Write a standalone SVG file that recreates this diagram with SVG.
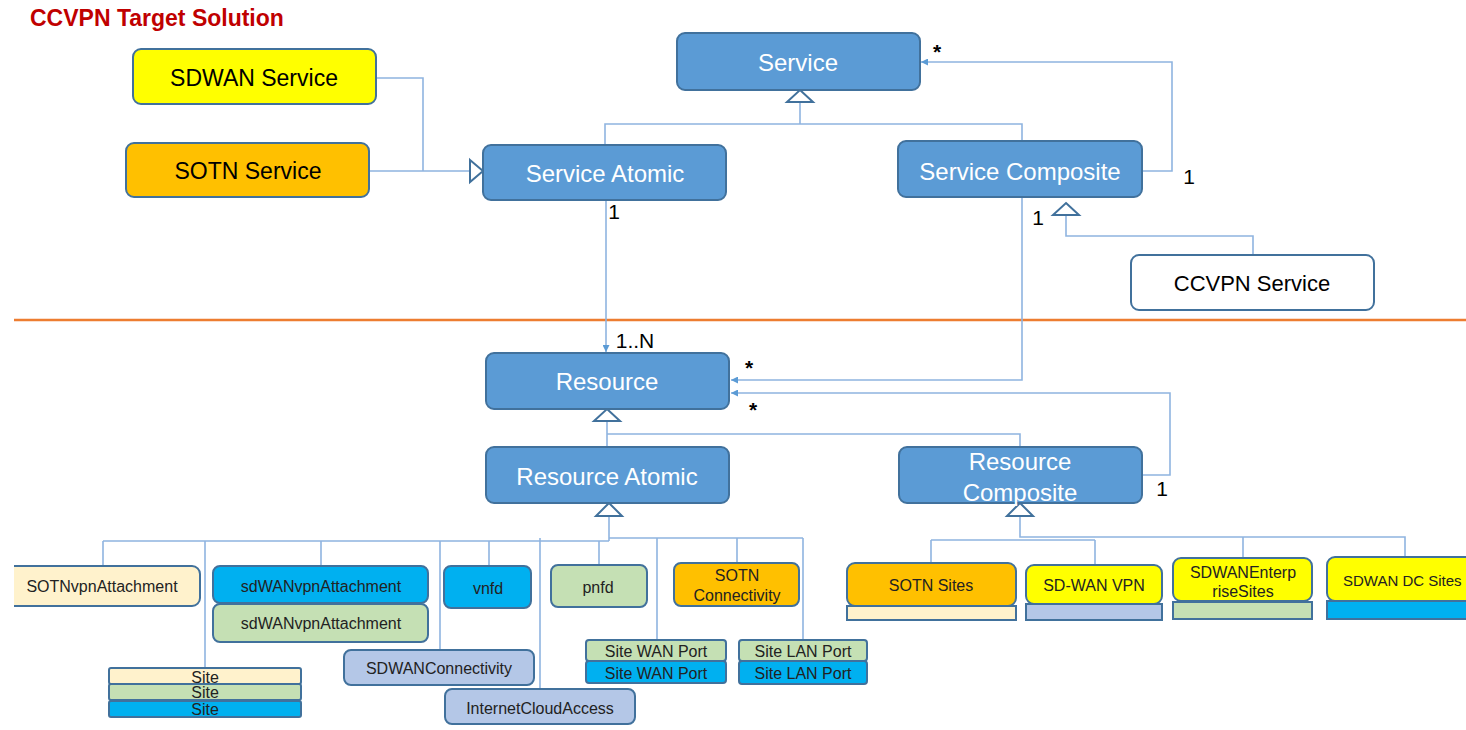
<svg xmlns="http://www.w3.org/2000/svg" width="1466" height="730" viewBox="0 0 1466 730">
<defs>
<marker id="arr" viewBox="0 0 10 10" refX="10" refY="5" markerWidth="7" markerHeight="7" orient="auto" markerUnits="userSpaceOnUse"><path d="M0,0 L10,5 L0,10 z" fill="#5B9BD5"/></marker>
<clipPath id="clipL"><rect x="14" y="0" width="1452" height="730"/></clipPath>
</defs>
<style>
text{font-family:"Liberation Sans",Arial,sans-serif;text-anchor:middle;dominant-baseline:central}
.n{stroke:#41719C;stroke-width:2}
.blue{fill:#5B9BD5}
.w{fill:#fff}
.yel{fill:#FFFF00}
.org{fill:#FFC000}
.cream{fill:#FFF2CC}
.grn{fill:#C5E0B4}
.cyan{fill:#00B0F0}
.lav{fill:#B4C7E7}
.tw{fill:#fff;font-size:24px}
.tb{fill:#000;font-size:23px}
.ts{fill:#222;font-size:16px}
.c{fill:none;stroke:#8FB4E0;stroke-width:1.6}
.tri{fill:#fff;stroke:#41719C;stroke-width:2}
.lbl{fill:#000;font-size:21px}
.star{fill:#000;font-size:21px;font-weight:bold}
</style>
<rect width="1466" height="730" fill="#fff"/>
<text x="30" y="18" style="text-anchor:start;fill:#C00000;font-size:23px;font-weight:bold">CCVPN Target Solution</text>
<line x1="14" y1="320" x2="1466" y2="320" stroke="#ED7D31" stroke-width="2.5"/>

<g id="connectors">
<path class="c" d="M376,78 H423 V171 M369,171 H470"/>
<polygon class="tri" points="470,160 483,171 470,182"/>
<path class="c" d="M800,103 V124 M605,145 V124 H1022 V141"/>
<polygon class="tri" points="800,90 813,102 787,102"/>
<path class="c" d="M1142,171 H1172 V62 H921" marker-end="url(#arr)"/>
<path class="c" d="M606,200 V352" marker-end="url(#arr)"/>
<path class="c" d="M1022,197 V380 H731" marker-end="url(#arr)"/>
<path class="c" d="M1142,475 H1170 V393 H731" marker-end="url(#arr)"/>
<path class="c" d="M1253,255 V236 H1066 V215"/>
<polygon class="tri" points="1066,203 1079,215 1053,215"/>
<path class="c" d="M607,421 V447 M607,434 H1020 V447"/>
<polygon class="tri" points="607,409 620,421 594,421"/>
<path class="c" d="M609,516 V541 M103,541 H609 M609,538 H803 M103,541 V566 M205,541 V668 M321,541 V566 M440,541 V650 M489,541 V566 M540,538 V689 M599,541 V565 M657,538 V640 M737,538 V563 M803,538 V640"/>
<polygon class="tri" points="609,503 622,516 596,516"/>
<path class="c" d="M1020,516 V537 H1405 V557 M931,540 H1095 M931,540 V563 M1095,540 V565 M1243,537 V558"/>
<polygon class="tri" points="1020,503 1033,516 1007,516"/>
</g>

<g id="labels">
<text class="star" x="937" y="51">*</text>
<text class="lbl" x="1189" y="176">1</text>
<text class="lbl" x="614" y="211">1</text>
<text class="lbl" x="1038" y="217">1</text>
<text class="lbl" x="635" y="340">1..N</text>
<text class="star" x="749" y="367">*</text>
<text class="star" x="753" y="409">*</text>
<text class="lbl" x="1162" y="488">1</text>
</g>

<g id="sdwan-service"><rect class="n yel" x="133" y="49" width="243" height="55" rx="8"/><text class="tb" x="254" y="78">SDWAN Service</text></g>
<g id="sotn-service"><rect class="n org" x="126" y="143" width="243" height="54" rx="8"/><text class="tb" x="248" y="171">SOTN Service</text></g>
<g id="service"><rect class="n blue" x="677" y="33" width="243" height="57" rx="8"/><text class="tw" x="798" y="62">Service</text></g>
<g id="service-atomic"><rect class="n blue" x="483" y="145" width="243" height="55" rx="8"/><text class="tw" x="605" y="173">Service Atomic</text></g>
<g id="service-composite"><rect class="n blue" x="898" y="141" width="244" height="56" rx="8"/><text class="tw" x="1020" y="171">Service Composite</text></g>
<g id="ccvpn-service"><rect class="n w" x="1131" y="255" width="243" height="55" rx="8"/><text class="tb" x="1252" y="283" style="font-size:22px">CCVPN Service</text></g>

<g id="resource"><rect class="n blue" x="486" y="353" width="243" height="56" rx="8"/><text class="tw" x="607" y="381">Resource</text></g>
<g id="resource-atomic"><rect class="n blue" x="486" y="447" width="243" height="56" rx="8"/><text class="tw" x="607" y="476">Resource Atomic</text></g>
<g id="resource-composite"><rect class="n blue" x="899" y="447" width="243" height="56" rx="8"/><text class="tw" x="1020" y="461">Resource</text><text class="tw" x="1020" y="492">Composite</text></g>

<g id="sotnvpnattachment" clip-path="url(#clipL)"><rect class="n cream" x="-10" y="566" width="210" height="40" rx="8"/><text class="ts" x="102" y="586">SOTNvpnAttachment</text></g>
<g id="sdwanvpnattachment-green"><rect class="n grn" x="213" y="604" width="215" height="38" rx="7"/><text class="ts" x="321" y="623">sdWANvpnAttachment</text></g>
<g id="sdwanvpnattachment-blue"><rect class="n cyan" x="213" y="566" width="215" height="37" rx="7"/><text class="ts" x="321" y="586">sdWANvpnAttachment</text></g>
<g id="vnfd"><rect class="n cyan" x="444" y="566" width="87" height="42" rx="7"/><text class="ts" x="488" y="588">vnfd</text></g>
<g id="pnfd"><rect class="n grn" x="551" y="565" width="96" height="42" rx="7"/><text class="ts" x="598" y="587">pnfd</text></g>
<g id="sotn-connectivity"><rect class="n org" x="674" y="563" width="125" height="43" rx="7"/><text class="ts" x="737" y="575">SOTN</text><text class="ts" x="737" y="595">Connectivity</text></g>
<g id="site"><rect class="n cream" x="109" y="668" width="192" height="16" rx="2"/><rect class="n grn" x="109" y="684" width="192" height="16" rx="2"/><rect class="n cyan" x="109" y="701" width="192" height="16" rx="2"/><text class="ts" x="205" y="677">Site</text><text class="ts" x="205" y="692">Site</text><text class="ts" x="205" y="709">Site</text></g>
<g id="sdwanconnectivity"><rect class="n lav" x="344" y="650" width="190" height="35" rx="7"/><text class="ts" x="439" y="668">SDWANConnectivity</text></g>
<g id="internetcloudaccess"><rect class="n lav" x="445" y="689" width="190" height="35" rx="7"/><text class="ts" x="540" y="708">InternetCloudAccess</text></g>
<g id="site-wan-port"><rect class="n grn" x="586" y="640" width="140" height="21" rx="3"/><rect class="n cyan" x="586" y="661" width="140" height="22" rx="3"/><text class="ts" x="656" y="651">Site WAN Port</text><text class="ts" x="656" y="673">Site WAN Port</text></g>
<g id="site-lan-port"><rect class="n grn" x="739" y="640" width="128" height="21" rx="3"/><rect class="n cyan" x="739" y="661" width="128" height="23" rx="3"/><text class="ts" x="803" y="651">Site LAN Port</text><text class="ts" x="803" y="673">Site LAN Port</text></g>

<g id="sotn-sites"><rect class="n cream" x="847" y="606" width="169" height="14"/><rect class="n org" x="847" y="563" width="169" height="43" rx="8"/><text class="ts" x="931" y="585">SOTN Sites</text></g>
<g id="sd-wan-vpn"><rect class="n lav" x="1026" y="604" width="136" height="16"/><rect class="n yel" x="1026" y="565" width="136" height="39" rx="8"/><text class="ts" x="1094" y="585">SD-WAN VPN</text></g>
<g id="sdwan-enterprise-sites"><rect class="n grn" x="1173" y="602" width="139" height="17"/><rect class="n yel" x="1173" y="558" width="139" height="43" rx="8"/><text class="ts" x="1243" y="572">SDWANEnterp</text><text class="ts" x="1243" y="591">riseSites</text></g>
<g id="sdwan-dc-sites"><rect class="n cyan" x="1327" y="601" width="150" height="18"/><rect class="n yel" x="1327" y="557" width="150" height="44" rx="8"/><text class="ts" x="1343" y="580" style="text-anchor:start;font-size:15px">SDWAN DC Sites</text></g>
</svg>
